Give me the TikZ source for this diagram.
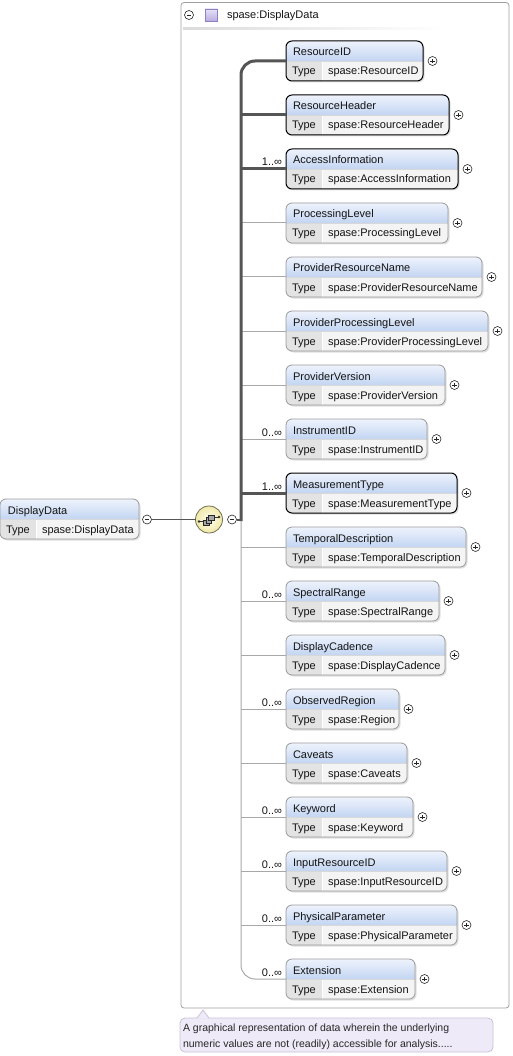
\documentclass[tikz,border=0pt]{standalone}
\usepackage{fontspec}
\setmainfont{Liberation Sans}
\usetikzlibrary{shadows}
\definecolor{hdtop}{HTML}{EEF3FC}
\definecolor{hdbot}{HTML}{C3D5F2}
\definecolor{typecell}{HTML}{E3E3E3}
\definecolor{valcell}{HTML}{F4F4F4}
\definecolor{hdline}{HTML}{D8D8D8}
\definecolor{optborder}{HTML}{999999}
\definecolor{lineDark}{HTML}{555555}
\definecolor{lineLight}{HTML}{A8A8A8}
\definecolor{framec}{HTML}{A0A0A0}
\definecolor{tipfill}{HTML}{EFEAF7}
\definecolor{tipborder}{HTML}{C9C1DA}
\definecolor{compin}{HTML}{FFFFF0}
\definecolor{compout}{HTML}{F0E8A8}
\definecolor{compborder}{HTML}{6E6E50}
\definecolor{sqtop}{HTML}{E8E2F8}
\definecolor{sqbot}{HTML}{B9ACE0}
\definecolor{sqborder}{HTML}{8E80C0}
\newcommand\elem[8]{%
  \pgfmathsetmacro\elT{-(41+54*#2)}%
  \pgfmathsetmacro\elW{#3-286}%
  \pgfmathsetmacro\elC{\elT-20}%
  \node[elbox,#6,minimum width=\elW pt,anchor=north west] (#1) at (286,\elT) {};
  \node[txt,anchor=base west] (#1n) at ([xshift=7pt,yshift=-15pt]#1.north west) {#4};
  \node[txt,anchor=base west] (#1k) at ([xshift=6pt,yshift=6pt]#1.south west) {Type};
  \node[txt,anchor=base west] (#1v) at ([xshift=42pt,yshift=6pt]#1.south west) {#5};
  \node[plus] (#1p) at ([xshift=9.5pt]#1.east) {};
  \coordinate (#1s) at (241,\elC);
  \ifx&#7&\else \draw[#7] (#1s) -- (#1.west);\fi
  \ifx&#8&\else \node[txt,anchor=base east] (#1m) at ([xshift=-4pt,yshift=3pt]#1.west) {#8};\fi
}
\begin{document}
\begin{tikzpicture}[x=1pt,y=1pt,
  every node/.style={inner sep=0pt,outer sep=0pt},
  txt/.style={font=\fontsize{11}{13}\selectfont,text=black!92},
  desc/.style={font=\fontsize{10.5}{13}\selectfont,text=black!85},
  elbox/.style={rectangle,rounded corners=6pt,minimum height=40pt,
    drop shadow={shadow xshift=1.5pt,shadow yshift=-1.5pt,opacity=0.25},
    path picture={
      \fill[valcell,sharp corners] (path picture bounding box.south west) rectangle (path picture bounding box.north east);
      \shade[top color=hdtop,bottom color=hdbot,sharp corners] ([yshift=-20pt]path picture bounding box.north west) rectangle (path picture bounding box.north east);
      \fill[typecell,sharp corners] (path picture bounding box.south west) rectangle ([xshift=36pt,yshift=-20pt]path picture bounding box.north west);
      \draw[white,line width=0.8pt] ([xshift=36pt]path picture bounding box.south west) -- ([xshift=36pt,yshift=-20pt]path picture bounding box.north west);
      \draw[hdline,line width=0.6pt] ([yshift=-20pt]path picture bounding box.north west) -- ([yshift=-20pt]path picture bounding box.north east);
    }},
  req/.style={draw=black,line width=1pt},
  opt/.style={draw=optborder,line width=0.8pt},
  reqline/.style={draw=lineDark,line width=3pt},
  optline/.style={draw=lineLight,line width=1pt},
  pmc/.style={circle,draw=black!85,fill=white,minimum size=9pt,line width=0.6pt},
  plus/.style={pmc,path picture={
      \draw[line width=0.6pt] ([xshift=-2.2pt]path picture bounding box.center) -- ([xshift=2.2pt]path picture bounding box.center)
        ([yshift=-2.2pt]path picture bounding box.center) -- ([yshift=2.2pt]path picture bounding box.center);}},
  minus/.style={pmc,path picture={
      \draw[line width=0.6pt] ([xshift=-2.2pt]path picture bounding box.center) -- ([xshift=2.2pt]path picture bounding box.center);}},
]
\useasboundingbox (0,0) rectangle (512,-1056);

% frame
\draw[framec,line width=0.8pt,rounded corners=3pt] (181,-2.5) rectangle (509,-1008);
\shade[left color=black!14,right color=white] (183,-28) rectangle (445,-30);
\node[minus] (topm) at (189,-15) {};
\node[draw=sqborder,top color=sqtop,bottom color=sqbot,minimum size=12pt,line width=0.6pt] (sq) at (211,-15) {};
\node[txt,anchor=base west] (toptitle) at (227,-19) {spase:DisplayData};

% elements
\elem{e0}{0}{423}{ResourceID}{spase:ResourceID}{req}{}{}
\elem{e1}{1}{449}{ResourceHeader}{spase:ResourceHeader}{req}{reqline}{}
\elem{e2}{2}{458}{AccessInformation}{spase:AccessInformation}{req}{reqline}{1..∞}
\elem{e3}{3}{448}{ProcessingLevel}{spase:ProcessingLevel}{opt}{optline}{}
\elem{e4}{4}{482}{ProviderResourceName}{spase:ProviderResourceName}{opt}{optline}{}
\elem{e5}{5}{488}{ProviderProcessingLevel}{spase:ProviderProcessingLevel}{opt}{optline}{}
\elem{e6}{6}{445}{ProviderVersion}{spase:ProviderVersion}{opt}{optline}{}
\elem{e7}{7}{427}{InstrumentID}{spase:InstrumentID}{opt}{optline}{0..∞}
\elem{e8}{8}{457}{MeasurementType}{spase:MeasurementType}{req}{reqline}{1..∞}
\elem{e9}{9}{466}{TemporalDescription}{spase:TemporalDescription}{opt}{optline}{}
\elem{e10}{10}{439}{SpectralRange}{spase:SpectralRange}{opt}{optline}{0..∞}
\elem{e11}{11}{445}{DisplayCadence}{spase:DisplayCadence}{opt}{optline}{}
\elem{e12}{12}{399}{ObservedRegion}{spase:Region}{opt}{optline}{0..∞}
\elem{e13}{13}{407}{Caveats}{spase:Caveats}{opt}{optline}{}
\elem{e14}{14}{413}{Keyword}{spase:Keyword}{opt}{optline}{0..∞}
\elem{e15}{15}{447}{InputResourceID}{spase:InputResourceID}{opt}{optline}{0..∞}
\elem{e16}{16}{457}{PhysicalParameter}{spase:PhysicalParameter}{opt}{optline}{0..∞}
\elem{e17}{17}{415}{Extension}{spase:Extension}{opt}{}{0..∞}

% root element
\node[elbox,opt,minimum width=139pt,anchor=north west] (root) at (0,-499) {};
\node[txt,anchor=base west] (rootn) at ([xshift=8pt,yshift=-15pt]root.north west) {DisplayData};
\node[txt,anchor=base west] (rootk) at ([xshift=6pt,yshift=6pt]root.south west) {Type};
\node[txt,anchor=base west] (rootv) at ([xshift=42pt,yshift=6pt]root.south west) {spase:DisplayData};
\node[minus] (rootm) at (147,-519.5) {};

% compositor
\node[circle,draw=compborder,line width=0.8pt,inner color=compin,outer color=compout,minimum size=27pt] (comp) at (209,-519.5) {};
\begin{scope}[shift={(comp.center)}]
  \draw[black!80,line width=0.7pt] (-10,-2) -- (-4,-2);
  \fill[black!80] (-10,-2) circle (1.3);
  \draw[black!80,line width=0.7pt] (4,2.5) -- (10,2.5);
  \fill[black!80] (10,2.5) circle (1.3);
  \filldraw[fill=black!35,draw=black!85,line width=0.5pt] (-5.5,-6) rectangle (0,-0.5);
  \filldraw[fill=black!35,draw=black!85,line width=0.5pt] (-3,-3.5) rectangle (2.5,2);
  \filldraw[fill=black!35,draw=black!85,line width=0.5pt] (-0.5,-1) rectangle (5,4.5);
\end{scope}
\node[minus] (compm) at (232,-519.5) {};
\coordinate (spinemid) at (241,-519.5);

% connectors
\draw[lineDark,line width=1.8pt] (rootm.east) -- (comp.west);
\draw[optline,rounded corners=14pt] (spinemid) -- (e17s) -- (e17.west);
\draw[reqline,rounded corners=14pt] ([yshift=-1.5pt]spinemid) -- (e0s) -- (e0.west);
\draw[lineDark,line width=2pt] (compm.east) -- (spinemid);

% description
\node[draw=tipborder,fill=tipfill,line width=0.8pt,rounded corners=5pt,minimum width=313pt,minimum height=34pt,anchor=north west] (tip) at (180,-1018) {};
\fill[tipfill] (197,-1018.6) -- (203,-1010) -- (209,-1018.6) -- cycle;
\draw[tipborder,line width=0.8pt] (197,-1018) -- (203,-1010) -- (209,-1018);
\node[desc,anchor=base west] (tip1) at (183,-1031) {A graphical representation of data wherein the underlying};
\node[desc,anchor=base west] (tip2) at (183,-1047) {numeric values are not (readily) accessible for analysis.....};
\end{tikzpicture}
\end{document}
